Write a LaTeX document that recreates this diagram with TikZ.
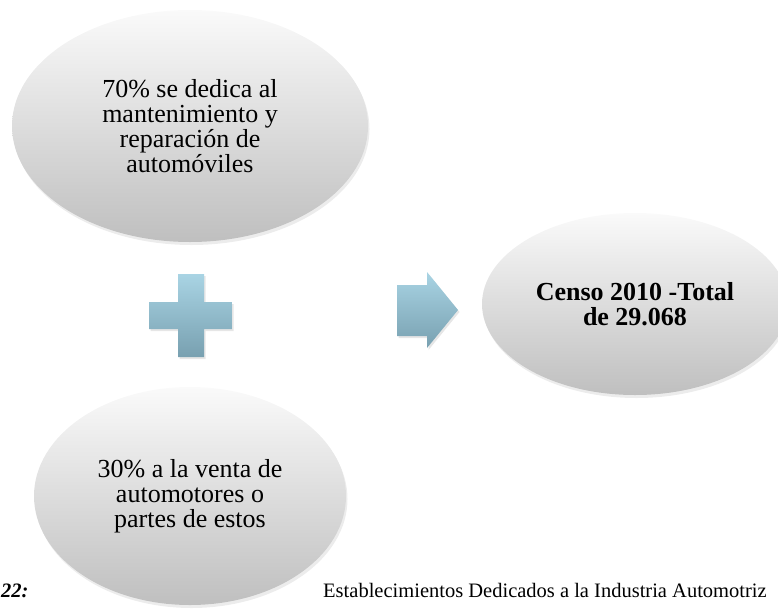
\documentclass[tikz,border=0pt]{standalone}
\usepackage{fontspec}
\setmainfont{Liberation Serif}
\usetikzlibrary{shapes.geometric,shadows}
\definecolor{ovaltop}{HTML}{FAFAFA}
\definecolor{ovalbot}{HTML}{BFBFBF}
\definecolor{bluetop}{HTML}{A9D4E4}
\definecolor{bluebot}{HTML}{78A0B0}

\begin{document}
\begin{tikzpicture} [x=1pt, y=-1pt]
\tikzstyle{oval}=[shape=ellipse, inner sep=0pt, align=center, top color=ovaltop, bottom color=ovalbot, drop shadow={shadow xshift=1.5pt, shadow yshift=-3pt, opacity=0.15}, font=\fontsize{26}{25}\selectfont];
\tikzstyle{sign}=[top color=bluetop, bottom color=bluebot, drop shadow={shadow xshift=1.5pt, shadow yshift=-2pt, opacity=0.2}];
\tikzstyle{caption}=[inner sep=0pt, font=\fontsize{20.5}{24}\selectfont];
\useasboundingbox (0,0) rectangle (778,608);
\node [oval, minimum width=356pt, minimum height=232pt] (e1) at (190,126) {70\% se dedica al\\ mantenimiento y\\ reparación de\\ automóviles};
\node [oval, minimum width=312pt, minimum height=218pt] (e2) at (190,496) {30\% a la venta de\\ automotores o\\ partes de estos};
\node [oval, minimum width=306pt, minimum height=182pt, font=\fontsize{26}{25}\selectfont\bfseries] (e3) at (635,304) {Censo 2010 -Total\\ de 29.068};
\path [sign] (178,274) -- (204,274) -- (204,302) -- (232,302) -- (232,329) -- (204,329) % plus
  -- (204,357) -- (178,357) -- (178,329) -- (149,329) -- (149,302) -- (178,302) -- cycle;
\path [sign] (397,285) -- (427,285) -- (427,272) -- (458,310) -- (427,348) -- (427,336) % arrow
  -- (397,336) -- cycle;
\node [caption, anchor=base west, font=\fontsize{20.5}{24}\selectfont\bfseries\itshape] (fig) at (1,597) {22:};
\node [caption, anchor=base west] (cap) at (323,597) {Establecimientos Dedicados a la Industria Automotriz};
\end{tikzpicture}
\end{document}
